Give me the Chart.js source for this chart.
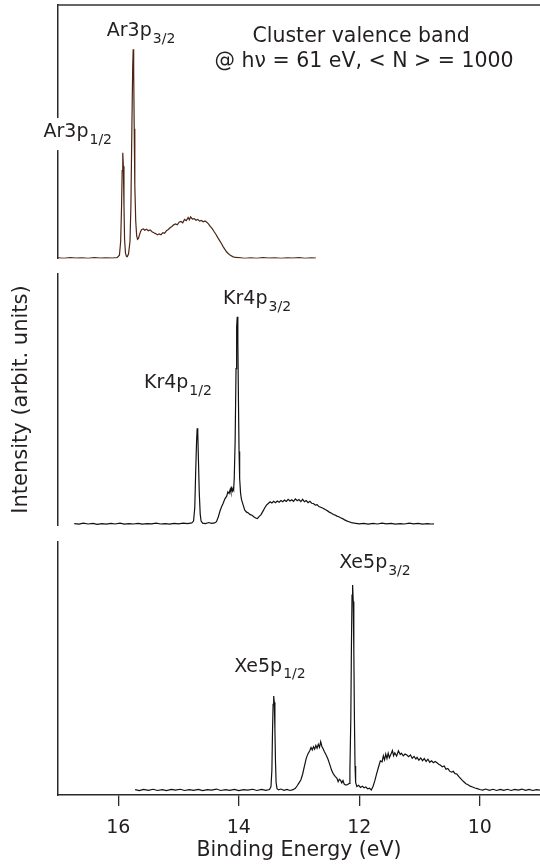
<!DOCTYPE html>
<html><head><meta charset="utf-8">
<script src="https://cdn.jsdelivr.net/npm/chart.js@4.4.1/dist/chart.umd.min.js"></script>
<style>
html,body{margin:0;padding:0;background:#fff;}
#wrap{position:relative;width:540px;height:866px;overflow:hidden;background:#fff;}
canvas{position:absolute;left:0;}
</style></head><body>
<div id="wrap">
<canvas id="c1" width="540" height="262" style="top:0px"></canvas>
<canvas id="c2" width="540" height="268" style="top:262px"></canvas>
<canvas id="c3" width="540" height="336" style="top:530px"></canvas>
</div>
<script>
const FONT = "'DejaVu Sans', sans-serif";
const TEXT = '#231f20';

// ---- data (binding energy in eV, intensity in arbitrary units) ----
const arEnergy = [17.00,16.90,16.80,16.70,16.60,16.50,16.40,16.30,16.20,16.10,16.02,15.98,15.96,15.945,15.935,15.925,15.915,15.905,15.895,15.88,15.865,15.85,15.83,15.805,15.79,15.775,15.76,15.752,15.744,15.735,15.725,15.71,15.695,15.68,15.665,15.65,15.63,15.61,15.58,15.56,15.53,15.50,15.47,15.44,15.41,15.38,15.35,15.32,15.29,15.26,15.23,15.20,15.17,15.14,15.11,15.08,15.05,15.02,14.99,14.96,14.93,14.90,14.87,14.84,14.82,14.80,14.77,14.74,14.71,14.68,14.65,14.62,14.59,14.56,14.53,14.50,14.47,14.44,14.41,14.38,14.35,14.32,14.29,14.26,14.23,14.20,14.17,14.14,14.10,14.06,14.00,13.90,13.80,13.70,13.60,13.50,13.40,13.30,13.20,13.10,13.00,12.90,12.80,12.72];
const arIntensity = [0.2,0.0,0.3,0.1,0.2,0.0,0.3,0.1,0.2,0.1,0.3,1.5,8,25,42,50.5,44,25,9,2.5,1.0,0.8,2,8,25,60,92,100,90,62,35,18,11,9.1,9.5,11,12.8,13.8,14.0,13.4,13.9,13.2,13.6,12.7,12.2,11.8,11.2,11.7,11.3,12.3,12.0,13.2,13.8,14.6,15.2,16.0,16.4,16.0,17.3,17.6,17.0,18.6,18.0,19.5,18.4,19.8,18.8,19.0,18.2,18.6,17.8,18.1,17.5,17.9,17.3,16.3,15.2,14.2,12.8,11.5,10.0,8.6,7.2,5.6,4.3,3.0,2.2,1.4,0.8,0.4,0.3,0.0,0.2,0.0,0.3,0.1,0.2,0.0,0.2,0.1,0.3,0.0,0.2,0.1];

const krEnergy = [16.73,16.65,16.58,16.50,16.42,16.35,16.27,16.20,16.12,16.05,15.97,15.90,15.82,15.75,15.67,15.60,15.52,15.45,15.37,15.30,15.22,15.15,15.07,15.00,14.92,14.85,14.78,14.75,14.73,14.715,14.70,14.69,14.68,14.67,14.655,14.64,14.625,14.60,14.55,14.50,14.45,14.40,14.37,14.34,14.31,14.28,14.26,14.23,14.20,14.18,14.16,14.14,14.13,14.12,14.105,14.095,14.085,14.075,14.06,14.045,14.035,14.025,14.015,14.005,13.995,13.985,13.97,13.955,13.94,13.92,13.90,13.87,13.84,13.81,13.78,13.75,13.72,13.69,13.66,13.63,13.60,13.57,13.54,13.51,13.48,13.45,13.42,13.39,13.36,13.33,13.30,13.27,13.24,13.21,13.18,13.15,13.12,13.09,13.06,13.03,13.00,12.97,12.94,12.91,12.88,12.85,12.82,12.79,12.76,12.73,12.70,12.67,12.64,12.61,12.58,12.55,12.52,12.49,12.46,12.43,12.40,12.37,12.34,12.31,12.28,12.25,12.21,12.17,12.13,12.08,12.00,11.93,11.85,11.77,11.70,11.62,11.55,11.47,11.40,11.32,11.25,11.17,11.10,11.02,10.95,10.87,10.80,10.76];
const krIntensity = [0.3,0.0,0.5,0.1,0.4,-0.1,0.3,0.0,0.4,0.1,0.5,0.0,0.3,0.1,0.4,0.0,0.3,0.2,0.5,0.1,0.3,0.0,0.4,0.2,0.5,0.3,0.6,1.5,8,25,40,46.2,44,32,15,5,1.5,0.5,0.3,0.8,0.4,0.6,1.2,3.5,6.5,8.8,10.0,12.2,13.5,15.6,14.8,16.9,15.5,17.4,16.0,17.2,16.5,22,40,75,95,100,88,60,35,22,15,12,10.5,8.6,6.8,5.8,5.4,4.6,4.3,3.6,3.0,2.7,3.8,4.6,6.2,7.8,9.2,10.0,10.8,10.2,11.0,10.4,11.2,10.6,11.4,10.8,11.6,11.0,12.0,11.2,11.8,11.0,12.2,11.3,11.9,10.9,12.0,10.8,11.4,10.4,11.0,10.1,10.0,9.2,9.4,8.5,8.2,7.8,7.3,6.8,6.3,5.7,5.3,4.7,4.4,3.9,3.6,3.1,2.7,2.2,1.6,1.2,0.8,0.5,0.2,0.4,0.0,0.4,0.1,0.5,0.2,0.4,0.0,0.3,0.1,0.5,0.2,0.4,0.0,0.3,0.1,0.2];

const xeEnergy = [15.72,15.65,15.58,15.50,15.42,15.35,15.27,15.20,15.12,15.05,14.97,14.90,14.82,14.75,14.67,14.60,14.52,14.45,14.37,14.30,14.22,14.15,14.07,14.00,13.92,13.85,13.77,13.70,13.62,13.55,13.49,13.465,13.45,13.44,13.43,13.42,13.41,13.40,13.39,13.38,13.365,13.34,13.30,13.25,13.20,13.15,13.10,13.06,13.03,13.00,12.97,12.94,12.91,12.88,12.85,12.82,12.80,12.78,12.76,12.74,12.72,12.70,12.68,12.66,12.64,12.62,12.60,12.58,12.55,12.52,12.49,12.46,12.43,12.40,12.37,12.35,12.33,12.31,12.29,12.27,12.25,12.23,12.21,12.19,12.17,12.155,12.14,12.13,12.12,12.11,12.10,12.09,12.08,12.07,12.06,12.04,12.01,11.98,11.95,11.92,11.89,11.86,11.83,11.80,11.77,11.74,11.71,11.68,11.65,11.62,11.60,11.58,11.56,11.54,11.52,11.50,11.48,11.45,11.43,11.41,11.38,11.35,11.32,11.30,11.27,11.24,11.21,11.18,11.15,11.12,11.09,11.06,11.04,11.01,10.98,10.95,10.92,10.89,10.86,10.83,10.80,10.77,10.74,10.71,10.68,10.65,10.62,10.59,10.56,10.53,10.50,10.47,10.44,10.41,10.38,10.35,10.32,10.29,10.26,10.23,10.20,10.16,10.12,10.08,10.04,10.00,9.95,9.90,9.84,9.78,9.72,9.66,9.60,9.54,9.48,9.42,9.36,9.30,9.24,9.18,9.12,9.06,9.00];
const xeIntensity = [0.5,0.0,0.6,0.2,0.7,0.1,0.5,0.0,0.6,0.3,0.7,0.1,0.5,0.2,0.6,0.0,0.5,0.3,0.8,0.1,0.5,0.2,0.6,0.0,0.5,0.3,0.7,0.1,0.6,0.2,0.6,2,10,28,42,46,43,30,14,4,1,0.4,0.8,0.2,0.6,0.1,0.5,1.2,2.4,3.8,5.2,8.0,12.0,15.7,18.0,19.5,21.0,19.8,21.4,20.2,22.0,20.6,22.5,21.0,23.8,21.5,20.4,19.0,17.3,15.4,12.8,10.0,8.2,7.0,6.0,4.4,5.6,5.0,3.8,4.9,3.2,2.8,2.8,3.0,3.5,10,35,70,95,100,92,68,35,12,4,2.0,2.6,1.6,2.2,1.4,1.8,0.9,1.2,0.3,2.2,5.0,8.4,11.5,14.5,14.0,17.0,15.0,17.8,15.6,18.2,16.0,17.3,19.5,17.0,18.4,16.8,19.4,17.6,18.2,16.9,17.8,17.3,16.5,17.4,15.8,16.7,15.4,16.2,14.8,15.9,14.6,15.6,14.2,15.3,13.8,14.5,13.6,14.2,13.6,12.9,12.4,11.6,12.0,10.4,10.8,9.5,9.0,9.4,8.3,8.1,7.0,6.0,5.0,4.2,3.4,3.0,2.2,1.8,1.3,1.0,0.6,0.3,0.8,0.2,0.7,0.1,0.6,0.2,0.7,0.1,0.6,0.3,0.8,0.2,0.6,0.1,0.5,0.3];

const xTickValues = [16, 14, 12, 10];
const xAxisTitle = 'Binding Energy (eV)';
const yAxisTitle = 'Intensity (arbit. units)';
const headerLines = ['Cluster valence band', '@ hν = 61 eV, < N > = 1000'];
const arPeakNames = [['Ar3p', '3/2'], ['Ar3p', '1/2']];
const krPeakNames = [['Kr4p', '3/2'], ['Kr4p', '1/2']];
const xePeakNames = [['Xe5p', '3/2'], ['Xe5p', '1/2']];

// ---- annotation plugin: labels anchored in data coordinates ----
const annoPlugin = {
  id: 'anno',
  afterDraw(chart, args, o) {
    const ctx = chart.ctx, xs = chart.scales.x, ys = chart.scales.y;
    ctx.save();
    ctx.textAlign = 'left';
    ctx.textBaseline = 'alphabetic';
    if (o.topLine) {
      const ca = chart.chartArea;
      ctx.strokeStyle = '#333';
      ctx.lineWidth = 1.5;
      ctx.beginPath();
      ctx.moveTo(ca.left - 0.75, ca.top);
      ctx.lineTo(chart.width, ca.top);
      ctx.stroke();
    }
    (o.labels || []).forEach(l => {
      const x = xs.getPixelForValue(l.e), y = ys.getPixelForValue(l.i);
      ctx.font = '19px ' + FONT;
      const w1 = ctx.measureText(l.name[0]).width;
      ctx.font = '14px ' + FONT;
      const w2 = ctx.measureText(l.name[1]).width;
      if (l.bg) {
        ctx.fillStyle = '#fff';
        ctx.fillRect(x - 2, y - 19, w1 + w2 + 6, 32);
      }
      ctx.fillStyle = TEXT;
      ctx.font = '19px ' + FONT;
      ctx.fillText(l.name[0], x, y);
      ctx.font = '14px ' + FONT;
      ctx.fillText(l.name[1], x + w1 + 1, y + 6.5);
    });
    (o.lines || []).forEach(l => {
      const x = xs.getPixelForValue(l.e), y = ys.getPixelForValue(l.i);
      ctx.font = '20.5px ' + FONT;
      ctx.fillStyle = TEXT;
      ctx.textAlign = 'center';
      ctx.fillText(l.text, x, y);
    });
    ctx.restore();
  }
};

function makeChart(id, energy, intensity, color, cfg) {
  const pts = energy.map((e, i) => ({x: e, y: intensity[i]}));
  const xScale = {
    type: 'linear', reverse: true, min: 9, max: 17, display: !!cfg.showX,
    afterBuildTicks: s => { s.ticks = xTickValues.map(v => ({value: v})); },
    afterFit: s => { if (cfg.showX) s.height = 71; },
    ticks: {font: {family: FONT, size: 19}, color: TEXT, padding: 11, autoSkip: false, maxRotation: 0},
    grid: {display: true, drawOnChartArea: false, drawTicks: true, tickLength: 11, color: '#2a2a2a', lineWidth: 1.3},
    border: {display: true, color: '#2a2a2a', width: 1.5},
    title: {display: !!cfg.showX, text: xAxisTitle, font: {family: FONT, size: 20.5}, color: TEXT, padding: {top: 0, bottom: 3}}
  };
  const yScale = {
    type: 'linear', min: cfg.ymin, max: cfg.ymax, position: 'left', display: true,
    afterFit: s => { s.width = 58; },
    ticks: {display: false},
    grid: {display: false, drawTicks: false},
    border: {display: true, color: '#2a2a2a', width: 1.5},
    title: {display: !!cfg.yTitle, text: yAxisTitle, font: {family: FONT, size: 21}, color: TEXT, padding: {top: 9.4, bottom: 0}}
  };
  return new Chart(document.getElementById(id), {
    type: 'line',
    data: {datasets: [{data: pts, borderColor: color, borderWidth: 1.2, pointRadius: 0, tension: 0, fill: false}]},
    options: {
      responsive: false, animation: false, devicePixelRatio: 1,
      layout: {padding: cfg.pad},
      scales: {x: xScale, y: yScale},
      plugins: {legend: {display: false}, tooltip: {enabled: false}, anno: cfg.anno}
    },
    plugins: [annoPlugin]
  });
}

makeChart('c1', arEnergy, arIntensity, '#4b2613', {
  ymin: -0.1, ymax: 121.2, pad: {left: 0, right: 0, top: 5, bottom: 3.5},
  anno: {topLine: true,
    labels: [{name: arPeakNames[0], e: 16.19, i: 106.3}, {name: arPeakNames[1], e: 17.24, i: 58.0, bg: true}],
    lines: [{text: headerLines[0], e: 11.97, i: 103.6}, {text: headerLines[1], e: 11.92, i: 91.7}]}
});
makeChart('c2', krEnergy, krIntensity, '#111', {
  ymin: -0.72, ymax: 120.9, pad: {left: 0, right: 0, top: 11.3, bottom: 4.3}, yTitle: true,
  anno: {labels: [{name: krPeakNames[0], e: 14.26, i: 106.1}, {name: krPeakNames[1], e: 15.574, i: 65.6}]}
});
makeChart('c3', xeEnergy, xeIntensity, '#111', {
  ymin: -2.09, ymax: 121.0, pad: {left: 0, right: 0, top: 11.7, bottom: 0}, showX: true,
  anno: {labels: [{name: xePeakNames[0], e: 12.333, i: 108.2}, {name: xePeakNames[1], e: 14.076, i: 57.9}]}
});
</script>
</body></html>
